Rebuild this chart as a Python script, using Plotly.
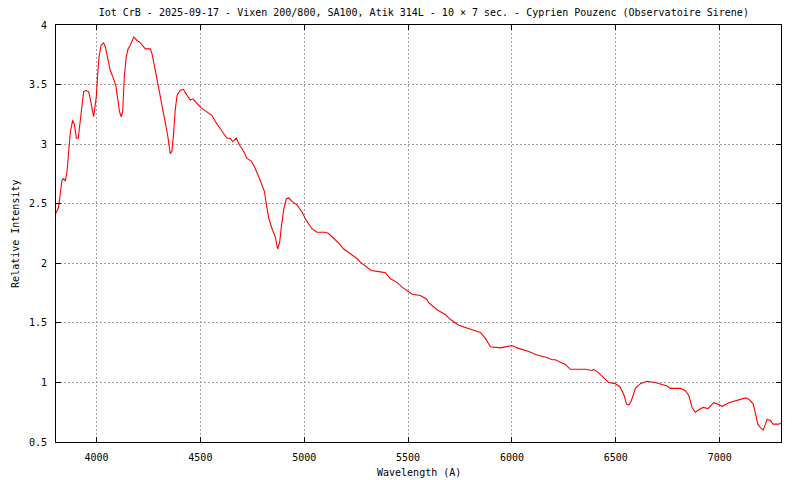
import plotly.graph_objects as go

# spectrum (wavelength in A, relative intensity)
wavelength = [
    3805, 3817, 3826, 3834, 3842, 3850, 3858, 3866, 3874, 3885, 3893, 3903,
    3912, 3922, 3930, 3938, 3950, 3962, 3970, 3978, 3986, 3991, 3999, 4005,
    4012, 4022, 4034, 4042, 4053, 4066, 4082, 4094, 4103, 4111, 4119, 4126,
    4134, 4143, 4152, 4163, 4179, 4195, 4211, 4235, 4259, 4267, 4283, 4299,
    4315, 4331, 4342, 4355, 4363, 4371, 4379, 4388, 4403, 4419, 4428, 4452,
    4465, 4484, 4500, 4516, 4532, 4556, 4572, 4588, 4612, 4628, 4644, 4655,
    4673, 4689, 4708, 4724, 4744, 4760, 4780, 4797, 4809, 4817, 4829, 4845,
    4861, 4872, 4882, 4890, 4901, 4914, 4925, 4941, 4965, 4989, 5010, 5037,
    5061, 5102, 5117, 5141, 5166, 5190, 5222, 5254, 5270, 5302, 5322, 5360,
    5391, 5415, 5447, 5471, 5495, 5519, 5559, 5588, 5599, 5639, 5679, 5703,
    5743, 5776, 5816, 5848, 5872, 5896, 5944, 5968, 6000, 6025, 6081, 6121,
    6169, 6193, 6209, 6233, 6257, 6281, 6353, 6385, 6393, 6417, 6441, 6465,
    6497, 6521, 6540, 6551, 6562, 6573, 6583, 6594, 6618, 6650, 6690, 6714,
    6747, 6763, 6811, 6835, 6851, 6867, 6883, 6899, 6920, 6943, 6971, 6988,
    7012, 7044, 7084, 7124, 7140, 7161, 7172, 7183, 7196, 7209, 7220, 7228,
    7244, 7257, 7284, 7295,
]
intensity = [
    2.42, 2.47, 2.59, 2.70, 2.71, 2.69, 2.77, 2.98, 3.10, 3.20, 3.17, 3.05,
    3.05, 3.20, 3.34, 3.44, 3.45, 3.44, 3.38, 3.29, 3.23, 3.29, 3.40, 3.57,
    3.73, 3.83, 3.85, 3.82, 3.73, 3.62, 3.55, 3.48, 3.37, 3.27, 3.23, 3.27,
    3.57, 3.73, 3.80, 3.83, 3.90, 3.87, 3.85, 3.80, 3.80, 3.76, 3.62, 3.48,
    3.31, 3.17, 3.08, 2.92, 2.94, 3.09, 3.29, 3.41, 3.45, 3.46, 3.43, 3.37,
    3.38, 3.34, 3.31, 3.29, 3.27, 3.24, 3.19, 3.15, 3.09, 3.05, 3.05, 3.02,
    3.05, 2.99, 2.94, 2.88, 2.86, 2.81, 2.73, 2.66, 2.60, 2.50, 2.38, 2.29,
    2.22, 2.12, 2.18, 2.31, 2.45, 2.54, 2.55, 2.52, 2.49, 2.43, 2.36, 2.29,
    2.26, 2.26, 2.25, 2.21, 2.17, 2.12, 2.08, 2.04, 2.01, 1.97, 1.94, 1.93,
    1.92, 1.87, 1.84, 1.80, 1.77, 1.74, 1.73, 1.70, 1.67, 1.61, 1.57, 1.53,
    1.48, 1.46, 1.44, 1.42, 1.37, 1.30, 1.29, 1.30, 1.31, 1.29, 1.26, 1.23,
    1.21, 1.19, 1.19, 1.17, 1.15, 1.11, 1.11, 1.10, 1.11, 1.08, 1.04, 1.00,
    0.99, 0.96, 0.89, 0.82, 0.81, 0.84, 0.89, 0.95, 0.99, 1.01, 1.00, 0.99,
    0.97, 0.95, 0.95, 0.93, 0.89, 0.79, 0.75, 0.77, 0.79, 0.78, 0.83, 0.82,
    0.80, 0.83, 0.85, 0.87, 0.86, 0.82, 0.74, 0.65, 0.62, 0.60, 0.65, 0.69,
    0.68, 0.65, 0.65, 0.66,
]

title = ("Iot CrB - 2025-09-17 - Vixen 200/800, SA100, Atik 314L - 10 \u00d7 7 sec."
         " - Cyprien Pouzenc (Observatoire Sirene)")
x_label = "Wavelength (A)"
y_label = "Relative Intensity"

FONT = dict(family="DejaVu Sans Mono", size=10, color="black")

fig = go.Figure(go.Scatter(x=wavelength, y=intensity, mode="lines",
                           line=dict(color="#ff0000", width=1.1)))

axis_common = dict(
    showline=True, linecolor="black", linewidth=1, mirror="ticks",
    ticks="inside", ticklen=5, tickcolor="black",
    showgrid=True, gridcolor="#a0a0a0", gridwidth=1, griddash="2px,2px",
    zeroline=False, tickfont=FONT, ticklabelstandoff=6,
)

fig.update_xaxes(range=[3805, 7295], tick0=4000, dtick=500, **axis_common)
fig.update_yaxes(range=[0.5, 4], tick0=0.5, dtick=0.5, **axis_common)

# the page body adds an 8px margin, so the figure is sized to fill what is left
fig.update_layout(
    width=792, height=472,
    margin=dict(l=48, r=19, t=17, b=38),
    paper_bgcolor="white", plot_bgcolor="white",
    showlegend=False,
    font=FONT,
    title=dict(text=title, x=0.525, xref="container", xanchor="center",
               y=0.991, yref="container", yanchor="middle", font=FONT),
    annotations=[
        dict(text=x_label, xref="paper", yref="paper", x=0.5, y=-0.073,
             xanchor="center", yanchor="middle", showarrow=False, font=FONT),
        dict(text=y_label, xref="paper", yref="paper", x=-0.056, y=0.5,
             xanchor="center", yanchor="middle", showarrow=False,
             textangle=-90, font=FONT),
    ],
)

fig.write_html("out.html")
